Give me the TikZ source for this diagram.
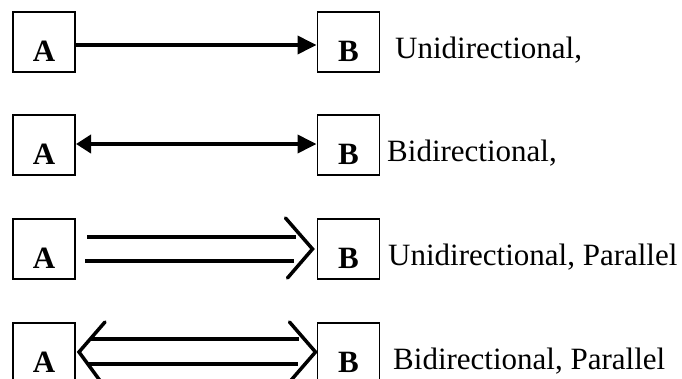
\documentclass[tikz,border=0pt]{standalone}
\usepackage{fontspec}
\setmainfont{Liberation Serif}
\usetikzlibrary{arrows.meta,calc}
\begin{document}
\begin{tikzpicture}[x=1pt,y=-1pt,
  box/.style={draw,line width=1.5pt,minimum width=62pt,minimum height=60pt,inner sep=0pt,outer sep=0pt},
  letter/.style={anchor=base,inner sep=0pt,font=\fontsize{31}{31}\selectfont\bfseries},
  caption/.style={anchor=base west,inner sep=0pt,font=\fontsize{31}{31}\selectfont},
  link/.style={line width=3.8pt},
  bar/.style={line width=3.2pt},
  chev/.style={line width=3.5pt,line cap=round,line join=miter}]
\useasboundingbox (0,0) rectangle (682,378);
\clip (0,0) rectangle (682,378);

% boxes
\node[box] (a1) at (44,42) {};
\node[box] (b1) at (348.5,42) {};
\node[box] (a2) at (44,145) {};
\node[box] (b2) at (348.5,145) {};
\node[box] (a3) at (44,249) {};
\node[box] (b3) at (348.5,249) {};
\node[box] (a4) at (44,353) {};
\node[box] (b4) at (348.5,353) {};

% letters in the boxes
\foreach \r in {1,2,3,4}{
  \node[letter] (la\r) at ($(a\r.north)+(0,49)$) {A};
  \node[letter] (lb\r) at ($(b\r.north)+(0,49)$) {B};
}

% captions
\node[caption] (c1) at (395,58) {Unidirectional,};
\node[caption] (c2) at (387,161) {Bidirectional,};
\node[caption] (c3) at (388,265) {Unidirectional, Parallel};
\node[caption] (c4) at (393,369) {Bidirectional, Parallel};

% single arrows
\draw[link,-{Triangle[length=19pt,width=18pt]}] ($(a1.east)+(0,3)$) -- ($(b1.west)+(-1,3)$);
\draw[link,{Triangle[length=15pt,width=18pt]}-{Triangle[length=19pt,width=18pt]}] ($(a2.east)+(1,-1)$) -- ($(b2.west)+(-1,-1)$);

% parallel, one way
\draw[bar] ($(a3.east)+(12,-12)$) -- ($(b3.west)+(-22,-12)$);
\draw[bar] ($(a3.east)+(10,12)$) -- ($(b3.west)+(-24,12)$);
\draw[chev] ($(b3.west)+(-32,-31)$) -- ($(b3.west)+(-5,0)$) -- ($(b3.west)+(-30,29)$);

% parallel, both ways
\draw[bar] ($(a4.east)+(15,-14)$) -- ($(b4.west)+(-19,-14)$);
\draw[bar] ($(a4.east)+(12,11)$) -- ($(b4.west)+(-20,11)$);
\draw[chev] ($(a4.east)+(30,-31)$) -- ($(a4.east)+(4,-1)$) -- ($(a4.east)+(26,29)$);
\draw[chev] ($(b4.west)+(-28,-31)$) -- ($(b4.west)+(-2,-1)$) -- ($(b4.west)+(-28,29)$);
\end{tikzpicture}
\end{document}
